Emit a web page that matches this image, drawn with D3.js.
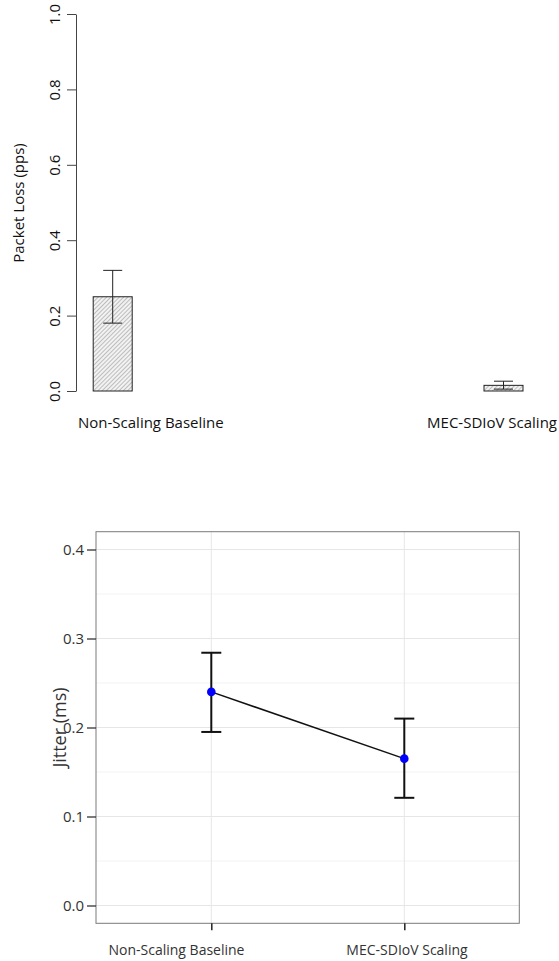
<!DOCTYPE html>
<html>
<head>
<meta charset="utf-8">
<script src="https://cdn.jsdelivr.net/npm/d3@7"></script>
<style>
  body { margin: 0; background: #fff; }
  svg { display: block; font-family: "Open Sans", sans-serif; }
</style>
</head>
<body>
<svg id="chart" width="559" height="961"></svg>
<script>
// data
const categories = ['Non-Scaling Baseline', 'MEC-SDIoV Scaling'];

const lossMean = [0.25, 0.015];
const lossLow = [0.18, 0.005];
const lossHigh = [0.32, 0.026];
const lossTicks = [0, 0.2, 0.4, 0.6, 0.8, 1.0];

const jitterMean = [0.24, 0.165];
const jitterLow = [0.195, 0.121];
const jitterHigh = [0.284, 0.21];
const jitterTicks = [0, 0.1, 0.2, 0.3, 0.4];
const jitterMinor = [0.05, 0.15, 0.25, 0.35];

const svg = d3.select('#chart');

// hatch pattern for bars
const defs = svg.append('defs');
defs.append('pattern')
    .attr('id', 'hatch')
    .attr('patternUnits', 'userSpaceOnUse')
    .attr('width', 3)
    .attr('height', 3)
    .attr('patternTransform', 'rotate(45)')
  .call(p => {
    p.append('rect').attr('width', 3).attr('height', 3).attr('fill', '#f2f2f2');
    p.append('line').attr('x1', 0).attr('y1', 0).attr('x2', 0).attr('y2', 3)
        .attr('stroke', '#9a9a9a').attr('stroke-width', 1.2);
  });


// TOP CHART: packet loss bars

const xTop = d3.scalePoint().domain(categories).range([112.7, 503.5]);
const yTop = d3.scaleLinear().domain([0, 1]).range([391, 14]);
const barW = 39;

const gTop = svg.append('g');

const yAxisTop = gTop.append('g')
    .attr('transform', 'translate(76,0)')
    .call(d3.axisLeft(yTop).tickValues(lossTicks).tickFormat(d3.format('.1f')).tickSize(9).tickSizeOuter(0));
yAxisTop.select('.domain').attr('stroke', '#444');
yAxisTop.selectAll('.tick line').attr('stroke', '#444');
yAxisTop.selectAll('.tick text')
    .attr('transform', 'rotate(-90)')
    .attr('x', 0)
    .attr('y', -16.5)
    .attr('dy', 0)
    .attr('text-anchor', 'middle')
    .attr('font-size', 15)
    .attr('font-family', '"Open Sans", sans-serif')
    .attr('fill', '#111');

gTop.append('text')
    .attr('transform', `translate(24,203) rotate(-90)`)
    .attr('text-anchor', 'middle')
    .attr('font-size', 15)
    .attr('fill', '#111')
    .text('Packet Loss (pps)');

gTop.selectAll('rect.bar')
    .data(categories)
  .enter().append('rect')
    .attr('class', 'bar')
    .attr('x', d => xTop(d) - barW / 2)
    .attr('width', barW)
    .attr('y', (d, i) => yTop(lossMean[i]))
    .attr('height', (d, i) => yTop(0) - yTop(lossMean[i]))
    .attr('fill', 'url(#hatch)')
    .attr('stroke', '#222')
    .attr('stroke-width', 1);

const errTop = gTop.selectAll('g.err')
    .data(categories)
  .enter().append('g')
    .attr('class', 'err')
    .attr('stroke', '#222')
    .attr('stroke-width', 1);
errTop.append('line')
    .attr('x1', d => xTop(d)).attr('x2', d => xTop(d))
    .attr('y1', (d, i) => yTop(lossLow[i])).attr('y2', (d, i) => yTop(lossHigh[i]));
errTop.append('line')
    .attr('x1', d => xTop(d) - 9.5).attr('x2', d => xTop(d) + 9.5)
    .attr('y1', (d, i) => yTop(lossHigh[i])).attr('y2', (d, i) => yTop(lossHigh[i]));
errTop.append('line')
    .attr('x1', d => xTop(d) - 9.5).attr('x2', d => xTop(d) + 9.5)
    .attr('y1', (d, i) => yTop(lossLow[i])).attr('y2', (d, i) => yTop(lossLow[i]));

// category labels
gTop.append('text')
    .attr('x', 78).attr('y', 428)
    .attr('font-size', 15).attr('fill', '#111')
    .text(categories[0]);
gTop.append('text')
    .attr('x', 557).attr('y', 428)
    .attr('text-anchor', 'end')
    .attr('font-size', 15).attr('fill', '#111')
    .text(categories[1]);


// BOTTOM CHART: jitter points

const panel = {left: 96, right: 519.3, top: 531.7, bottom: 923.3};
const xBot = d3.scalePoint().domain(categories).range([211.3, 404.3]);
const yBot = d3.scaleLinear().domain([-0.02, 0.42]).range([panel.bottom, panel.top]);

const gBot = svg.append('g');

gBot.selectAll('line.minor')
    .data(jitterMinor)
  .enter().append('line')
    .attr('x1', panel.left).attr('x2', panel.right)
    .attr('y1', d => yBot(d)).attr('y2', d => yBot(d))
    .attr('stroke', '#f3f3f3').attr('stroke-width', 1);

gBot.selectAll('line.major')
    .data(jitterTicks)
  .enter().append('line')
    .attr('x1', panel.left).attr('x2', panel.right)
    .attr('y1', d => yBot(d)).attr('y2', d => yBot(d))
    .attr('stroke', '#e6e6e6').attr('stroke-width', 1);

gBot.selectAll('line.vgrid')
    .data(categories)
  .enter().append('line')
    .attr('x1', d => xBot(d)).attr('x2', d => xBot(d))
    .attr('y1', panel.top).attr('y2', panel.bottom)
    .attr('stroke', '#e6e6e6').attr('stroke-width', 1);

gBot.append('rect')
    .attr('x', panel.left).attr('y', panel.top)
    .attr('width', panel.right - panel.left)
    .attr('height', panel.bottom - panel.top)
    .attr('fill', 'none')
    .attr('stroke', '#7a7a7a')
    .attr('stroke-width', 1);

const yAxisBot = gBot.append('g')
    .attr('transform', `translate(${panel.left},0)`)
    .call(d3.axisLeft(yBot).tickValues(jitterTicks).tickFormat(d3.format('.1f')).tickSize(9).tickPadding(3));
yAxisBot.select('.domain').remove();
yAxisBot.selectAll('.tick line').attr('stroke', '#333').attr('stroke-width', 1.3);
yAxisBot.selectAll('.tick text')
    .attr('font-size', 15)
    .attr('font-family', '"Open Sans", sans-serif')
    .attr('fill', '#333');

const xAxisBot = gBot.append('g')
    .attr('transform', `translate(0,${panel.bottom})`)
    .call(d3.axisBottom(xBot).tickSize(7).tickFormat(''));
xAxisBot.select('.domain').remove();
xAxisBot.selectAll('.tick line').attr('stroke', '#222').attr('stroke-width', 1.5);

gBot.append('text')
    .attr('x', 176.5).attr('y', 955)
    .attr('text-anchor', 'middle')
    .attr('font-size', 14).attr('fill', '#333')
    .text(categories[0]);
gBot.append('text')
    .attr('x', 407).attr('y', 955)
    .attr('text-anchor', 'middle')
    .attr('font-size', 14).attr('fill', '#333')
    .text(categories[1]);

gBot.append('text')
    .attr('transform', 'translate(66,727.5) rotate(-90)')
    .attr('text-anchor', 'middle')
    .attr('font-size', 18).attr('fill', '#333')
    .text('Jitter (ms)');

// error bars
const errBot = gBot.selectAll('g.jerr')
    .data(categories)
  .enter().append('g')
    .attr('class', 'jerr')
    .attr('stroke', '#111')
    .attr('stroke-width', 2);
errBot.append('line')
    .attr('x1', d => xBot(d)).attr('x2', d => xBot(d))
    .attr('y1', (d, i) => yBot(jitterLow[i])).attr('y2', (d, i) => yBot(jitterHigh[i]));
errBot.append('line')
    .attr('x1', d => xBot(d) - 10).attr('x2', d => xBot(d) + 10)
    .attr('y1', (d, i) => yBot(jitterHigh[i])).attr('y2', (d, i) => yBot(jitterHigh[i]));
errBot.append('line')
    .attr('x1', d => xBot(d) - 10).attr('x2', d => xBot(d) + 10)
    .attr('y1', (d, i) => yBot(jitterLow[i])).attr('y2', (d, i) => yBot(jitterLow[i]));

const line = d3.line()
    .x((d, i) => xBot(categories[i]))
    .y(d => yBot(d));
gBot.append('path')
    .datum(jitterMean)
    .attr('d', line)
    .attr('fill', 'none')
    .attr('stroke', '#111')
    .attr('stroke-width', 1.5);

gBot.selectAll('circle.pt')
    .data(jitterMean)
  .enter().append('circle')
    .attr('class', 'pt')
    .attr('cx', (d, i) => xBot(categories[i]))
    .attr('cy', d => yBot(d))
    .attr('r', 4.3)
    .attr('fill', '#0000ff');
</script>
</body>
</html>
